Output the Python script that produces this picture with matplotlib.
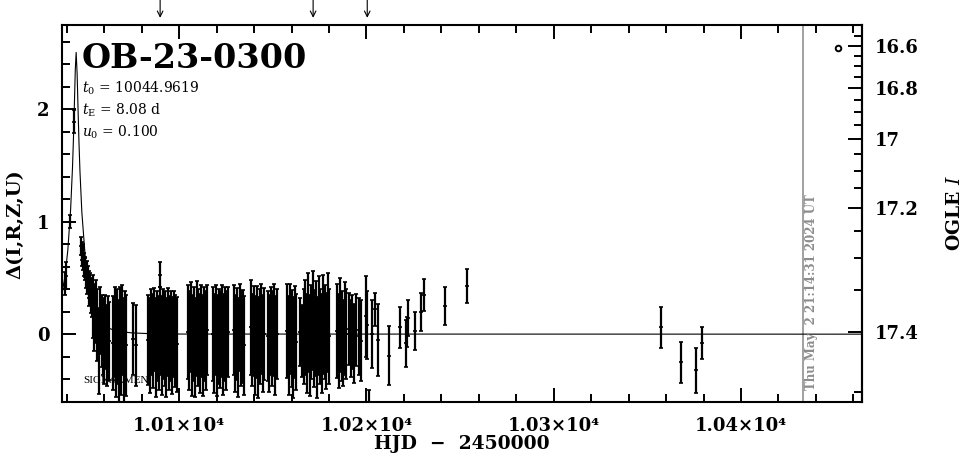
import numpy as np
import matplotlib
matplotlib.use("Agg")
import matplotlib.pyplot as plt
from matplotlib.ticker import MultipleLocator, FixedLocator, FuncFormatter

plt.rcParams['font.family'] = ['DejaVu Serif']
plt.rcParams['mathtext.fontset'] = 'dejavuserif'

event = "OB-23-0300"
t0_txt, te_txt, u0_txt = "10044.9619", "8.08", "0.100"
now_hjd = 10433.0
now_txt = "Thu May  2 21:14:31 2024 UT"
arrows_t = [10089.8, 10171.5, 10200.4]

# blending of the OGLE I band (right axis)
I_base = 17.4025
f_src = 0.114

# model curve
model_t = [10037.4, 10039.0, 10040.5, 10042.0, 10043.0, 10043.5, 10044.0, 10044.5, 10044.96,
           10045.5, 10046.0, 10046.5, 10047.0, 10048.0, 10050.0, 10052.0, 10055.0, 10058.0,
           10062.0, 10067.0, 10075.0, 10085.0, 10100.0, 10465.0]
model_d = [0.355, 0.516, 0.745, 1.108, 1.480, 1.730, 2.032, 2.353, 2.504,
           2.305, 1.980, 1.686, 1.444, 1.083, 0.645, 0.400, 0.207, 0.113,
           0.055, 0.025, 0.011, 0.004, 0.001, 0.0]

# OGLE points, 2023 season
hjd_peak = [10039.2, 10039.8, 10041.8, 10043.7]
d_peak = [0.45, 0.52, 1.00, 1.89]
e_peak = [0.10, 0.12, 0.06, 0.10]

hjd_tail = [10047.6, 10047.9, 10048.2, 10048.5, 10048.8, 10049.1, 10049.5, 10049.8, 10050.2,
            10050.5, 10050.9, 10051.3, 10051.6, 10052.0, 10052.4, 10052.8, 10053.2, 10053.6]
d_tail = [0.78, 0.74, 0.70, 0.72, 0.66, 0.62, 0.58, 0.60, 0.52,
          0.55, 0.48, 0.50, 0.44, 0.38, 0.42, 0.33, 0.30, 0.36]
e_tail = [0.08, 0.08, 0.09, 0.08, 0.09, 0.10, 0.10, 0.09, 0.11,
          0.10, 0.12, 0.11, 0.12, 0.13, 0.12, 0.14, 0.15, 0.14]

hjd_a = [10054.0, 10054.7, 10055.5, 10056.2, 10057.0, 10057.8, 10058.6,
         10059.2, 10059.9, 10060.6, 10061.3, 10062.0, 10062.7,
         10064.8, 10065.5, 10066.2, 10066.9, 10067.6, 10068.3, 10069.0, 10069.7, 10070.4,
         10071.1, 10071.8, 10075.3, 10076.9]
d_a = [0.25, 0.15, 0.20, 0.08, -0.15, 0.12, 0.03,
       -0.02, -0.08, 0.02, -0.10, -0.04, -0.06,
       -0.08, 0.02, -0.12, -0.02, -0.15, 0.00, -0.10, 0.04, -0.14,
       -0.04, -0.10, -0.04, -0.10]
e_a = [0.28, 0.30, 0.28, 0.32, 0.38, 0.30, 0.32,
       0.34, 0.36, 0.33, 0.36, 0.38, 0.35,
       0.42, 0.40, 0.44, 0.42, 0.45, 0.42, 0.44, 0.40, 0.46,
       0.42, 0.45, 0.32, 0.36]

hjd_b = [10083.5, 10084.3, 10085.1, 10085.9, 10086.7, 10087.5, 10088.3, 10089.1, 10089.8,
         10089.9, 10090.7, 10091.5, 10092.3, 10093.1, 10093.9, 10094.7, 10095.5, 10096.3,
         10097.1, 10097.9, 10098.7]
d_b = [-0.05, -0.10, 0.02, -0.06, 0.04, -0.12, -0.02, -0.08, 0.53,
       0.03, -0.10, 0.00, -0.04, -0.12, 0.02, -0.08, -0.02, -0.10,
       0.00, -0.06, -0.09]
e_b = [0.40, 0.42, 0.38, 0.42, 0.37, 0.44, 0.40, 0.42, 0.11,
       0.39, 0.44, 0.40, 0.42, 0.44, 0.39, 0.42, 0.40, 0.43,
       0.38, 0.41, 0.42]

hjd_c = [10104.5, 10105.3, 10106.1, 10106.9, 10107.7, 10108.5, 10109.3, 10110.1, 10110.9,
         10111.7, 10112.5, 10113.3, 10114.1, 10114.9,
         10117.8, 10118.6, 10119.4, 10120.2, 10121.0, 10121.8, 10122.6, 10123.4, 10124.2,
         10125.0, 10125.8]
d_c = [0.02, -0.06, 0.06, -0.10, 0.00, -0.12, 0.05, -0.03, -0.08,
       0.03, -0.10, 0.00, -0.06, 0.04,
       0.00, -0.08, 0.04, -0.10, -0.02, -0.05, 0.03, -0.09, 0.00,
       -0.06, 0.02]
e_c = [0.42, 0.44, 0.40, 0.45, 0.42, 0.44, 0.42, 0.43, 0.44,
       0.41, 0.45, 0.42, 0.44, 0.40,
       0.42, 0.44, 0.40, 0.45, 0.42, 0.43, 0.41, 0.45, 0.42,
       0.44, 0.40]

hjd_d = [10129.0, 10129.8, 10130.6, 10131.4, 10132.2, 10133.0, 10133.8, 10134.6,
         10138.1, 10138.9, 10139.7, 10140.5, 10141.3, 10142.1, 10142.9, 10143.7, 10144.5,
         10145.3, 10147.3, 10148.1, 10148.9, 10149.7, 10150.5, 10151.3, 10152.1]
d_d = [0.04, -0.08, 0.00, -0.12, 0.06, -0.04, -0.02, -0.10,
       0.06, -0.05, 0.03, -0.10, 0.02, -0.12, -0.02, 0.05, -0.08,
       0.00, -0.02, -0.08, 0.03, -0.04, 0.04, -0.10, 0.00]
e_d = [0.40, 0.43, 0.41, 0.44, 0.39, 0.42, 0.41, 0.44,
       0.42, 0.41, 0.40, 0.44, 0.41, 0.45, 0.42, 0.40, 0.43,
       0.41, 0.40, 0.43, 0.39, 0.42, 0.41, 0.44, 0.40]

hjd_e = [10157.8, 10158.6, 10159.4, 10160.2, 10161.0, 10161.8, 10162.6, 10164.7, 10165.6,
         10166.5, 10167.3, 10168.1, 10168.9, 10169.7, 10170.5, 10171.3, 10172.1, 10172.9,
         10173.7, 10174.5, 10175.3, 10176.1, 10176.9, 10177.7, 10178.5, 10179.3, 10180.1]
d_e = [0.03, -0.10, 0.05, -0.04, -0.12, 0.02, -0.07, 0.02, -0.06,
       -0.02, 0.06, -0.08, 0.10, -0.10, 0.02, 0.12, -0.04, 0.05,
       -0.12, 0.08, -0.02, -0.08, 0.09, 0.02, -0.06, 0.10, -0.02]
e_e = [0.42, 0.44, 0.40, 0.43, 0.45, 0.41, 0.43, 0.30, 0.32,
       0.42, 0.42, 0.44, 0.44, 0.45, 0.42, 0.44, 0.43, 0.42,
       0.45, 0.44, 0.42, 0.44, 0.44, 0.42, 0.43, 0.44, 0.42]

hjd_f = [10184.5, 10185.3, 10186.1, 10186.9, 10187.7, 10188.5, 10189.3,
         10190.6, 10191.6, 10192.5, 10193.5, 10194.6, 10195.8, 10197.2,
         10199.5, 10200.4, 10201.2, 10203.0, 10204.6, 10206.0]
d_f = [0.03, -0.06, 0.08, -0.02, -0.08, 0.05, 0.00,
       0.05, -0.04, 0.02, -0.08, 0.04, -0.02, -0.06,
       0.16, 0.08, -0.75, 0.00, 0.22, -0.05]
e_f = [0.42, 0.42, 0.42, 0.40, 0.38, 0.41, 0.40,
       0.32, 0.34, 0.33, 0.35, 0.32, 0.34, 0.36,
       0.36, 0.30, 0.25, 0.30, 0.15, 0.32]

hjd_late = [10212.1, 10218.0, 10221.2, 10221.8, 10222.3, 10226.0, 10229.2, 10230.8,
            10242.0, 10253.8]
d_late = [-0.19, 0.06, -0.08, 0.02, 0.14, 0.03, 0.20, 0.35, 0.25, 0.43]
e_late = [0.26, 0.18, 0.21, 0.13, 0.16, 0.17, 0.17, 0.14, 0.17, 0.15]

# 2024 season
hjd_24 = [10357.3, 10368.1, 10376.1, 10379.2]
d_24 = [0.06, -0.25, -0.32, -0.08]
e_24 = [0.18, 0.18, 0.20, 0.14]

hjd = hjd_peak + hjd_tail + hjd_a + hjd_b + hjd_c + hjd_d + hjd_e + hjd_f + hjd_late + hjd_24
dmag = d_peak + d_tail + d_a + d_b + d_c + d_d + d_e + d_f + d_late + d_24
derr = e_peak + e_tail + e_a + e_b + e_c + e_d + e_e + e_f + e_late + e_24


def delta_to_mag(d):
    d = np.asarray(d, dtype=float)
    return I_base - 2.5 * np.log10(1 - f_src + f_src * 10 ** (0.4 * d))


def mag_to_delta(m):
    m = np.asarray(m, dtype=float)
    x = (10 ** (-0.4 * (m - I_base)) - 1 + f_src) / f_src
    return 2.5 * np.log10(np.clip(x, 1e-6, None))


fig = plt.figure(figsize=(9.65, 4.59), dpi=100)
ax = fig.add_axes([62 / 965, 1 - 402 / 459, 800 / 965, 377 / 459])

ax.text(0.026, 0.050, "SIGNALMEN", transform=ax.transAxes, fontsize=8,
        family="Liberation Serif", zorder=1)

ax.plot(model_t, model_d, color="black", lw=0.8, zorder=2)
ax.errorbar(hjd, dmag, yerr=derr, fmt="_", ms=2.5, mew=1.2, color="black",
            ecolor="black", elinewidth=1.6, capsize=1.5, capthick=1.2, zorder=3)

ax.axvline(now_hjd, color="#909090", lw=1.2, zorder=1)
ax.text(now_hjd + 1.0, -0.5, now_txt, rotation=90, color="#8c8c8c", fontsize=8.5,
        fontweight="bold", ha="left", va="bottom")

ax.plot(0.970, 0.939, "o", mfc="white", mec="black", ms=4, mew=1.4,
        transform=ax.transAxes, clip_on=False)

for t in arrows_t:
    ax.annotate("", xy=(t, 1.019), xycoords=("data", "axes fraction"),
                xytext=(t, 1.068), textcoords=("data", "axes fraction"),
                arrowprops=dict(arrowstyle="->", lw=0.8, color="black",
                                shrinkA=0, shrinkB=0),
                annotation_clip=False)

ax.text(0.025, 0.886, event, transform=ax.transAxes, fontsize=24,
        fontweight="bold", va="baseline")
ax.text(0.025, 0.833, r"$t_0$ = " + t0_txt, transform=ax.transAxes, fontsize=10, va="center")
ax.text(0.025, 0.775, r"$t_\mathrm{E}$ = " + te_txt + " d", transform=ax.transAxes,
        fontsize=10, va="center")
ax.text(0.025, 0.716, r"$u_0$ = " + u0_txt, transform=ax.transAxes, fontsize=10, va="center")

ax.set_xlim(10037.4, 10464.6)
ax.set_ylim(-0.603, 2.748)

ax.xaxis.set_major_locator(MultipleLocator(100))
ax.xaxis.set_minor_locator(MultipleLocator(20))
ax.xaxis.set_major_formatter(FuncFormatter(lambda v, p: "%.2f×10⁴" % (v / 1e4)))
ax.yaxis.set_major_locator(MultipleLocator(1))
ax.yaxis.set_minor_locator(MultipleLocator(0.2))
ax.yaxis.set_major_formatter(FuncFormatter(lambda v, p: "%d" % round(v)))

ax.tick_params(which="both", direction="in", top=True, right=False, width=1.4,
               labelsize=13, pad=9)
ax.tick_params(axis="x", pad=11)
ax.tick_params(which="major", length=10)
ax.tick_params(which="minor", length=5.5)
for lab in ax.get_xticklabels() + ax.get_yticklabels():
    lab.set_fontweight("bold")
for sp in ax.spines.values():
    sp.set_linewidth(1.5)

sec = ax.secondary_yaxis("right", functions=(delta_to_mag, mag_to_delta))
sec.yaxis.set_major_locator(FixedLocator([16.6, 16.8, 17.0, 17.2, 17.4]))
sec.yaxis.set_minor_locator(FixedLocator(np.arange(16.55, 17.46, 0.05)))
sec.yaxis.set_major_formatter(FuncFormatter(lambda v, p: "%g" % round(v, 2)))
sec.tick_params(which="both", direction="in", width=1.4, labelsize=13, pad=9)
sec.tick_params(which="major", length=10)
sec.tick_params(which="minor", length=5.5)
sec.spines["right"].set_linewidth(1.5)
for lab in sec.get_yticklabels():
    lab.set_fontweight("bold")

fig.text(15 / 965, 1 - 224 / 459, "Δ(I,R,Z,U)", rotation=90, ha="center", va="center",
         fontsize=14, fontweight="bold")
fig.text(462 / 965, 1 - 444 / 459, "HJD  −  2450000", ha="center", va="center",
         fontsize=13.5, fontweight="bold")
fig.text(955 / 965, 1 - 213 / 459, r"OGLE $I$", rotation=90, ha="center", va="center",
         fontsize=13.5, fontweight="bold")

fig.savefig("out.png", dpi=100)
